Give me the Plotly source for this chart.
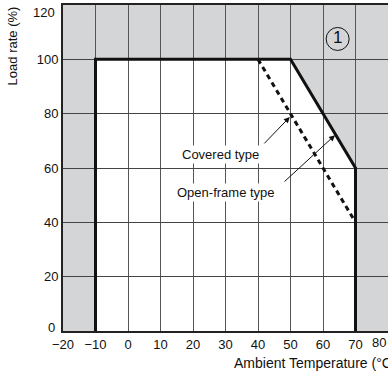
import plotly.graph_objects as go

# derating curves (ambient temperature in degC, load rate in %)
open_temp = [-10, -10, 50, 70, 70]
open_load = [0, 100, 100, 60, 0]
covered_temp = [40, 70]
covered_load = [100, 40]

x_ticks = [-20, -10, 0, 10, 20, 30, 40, 50, 60, 70, 80]
y_ticks = [0, 20, 40, 60, 80, 100, 120]

# annotation labels and arrow end points (data coords)
labels = ['Covered type', 'Open-frame type']
label_x = [28.6, 30.3]
label_y = [65.1, 50.8]
arrow_tail_x = [41.5, 47.7]
arrow_tail_y = [68.5, 54.5]
arrow_head_x = [49.8, 63.7]
arrow_head_y = [78.8, 72.1]

badge_x = [64.5]
badge_y = [107.5]
badge_text = ['1']

FONT = 'Liberation Sans, Arial, sans-serif'
grey_bg = '#d4d5d7'
ink = '#111111'

fig = go.Figure()

fig.add_trace(go.Scatter(
    x=open_temp, y=open_load, mode='lines',
    line=dict(color=ink, width=3), hoverinfo='skip',
))
fig.add_trace(go.Scatter(
    x=covered_temp, y=covered_load, mode='lines',
    line=dict(color=ink, width=3, dash='5px,4px'), hoverinfo='skip',
))
fig.add_trace(go.Scatter(
    x=badge_x, y=badge_y, mode='markers+text', text=badge_text,
    textposition='middle center',
    textfont=dict(size=17, color=ink, family=FONT),
    marker=dict(size=23, color='rgba(0,0,0,0)', line=dict(color=ink, width=1)),
    hoverinfo='skip',
))

# white usable area, drawn under the grid
path = 'M ' + ' L '.join('{} {}'.format(x, y) for x, y in zip(open_temp, open_load)) + ' Z'
shapes = [dict(type='path', path=path, xref='x', yref='y',
               fillcolor='white', line=dict(width=0), layer='below')]

annotations = []
for i in range(len(labels)):
    annotations.append(dict(
        x=arrow_head_x[i], y=arrow_head_y[i], ax=arrow_tail_x[i], ay=arrow_tail_y[i],
        xref='x', yref='y', axref='x', ayref='y', text='',
        showarrow=True, arrowhead=2, arrowsize=1.2, arrowwidth=1, arrowcolor=ink,
    ))
    annotations.append(dict(
        x=label_x[i], y=label_y[i], xref='x', yref='y', text=labels[i],
        showarrow=False, bgcolor='white', borderpad=1,
        font=dict(size=13, color=ink, family=FONT),
    ))

# edge tick labels, nudged inside the page like in the original
annotations.append(dict(
    x=-0.018, y=y_ticks[0], xref='paper', yref='y', xanchor='right', yanchor='middle',
    yshift=4, text=str(y_ticks[0]), showarrow=False, font=dict(size=13, color=ink, family=FONT),
))
annotations.append(dict(
    x=-0.018, y=y_ticks[-1], xref='paper', yref='y', xanchor='right', yanchor='middle',
    yshift=-7, text=str(y_ticks[-1]), showarrow=False, font=dict(size=13, color=ink, family=FONT),
))
annotations.append(dict(
    x=x_ticks[-1], y=-0.036, xref='x', yref='paper', xanchor='right', yanchor='middle',
    text=str(x_ticks[-1]), showarrow=False, font=dict(size=13, color=ink, family=FONT),
))

annotations.append(dict(
    x=0.52, y=-0.098, xref='paper', yref='paper', xanchor='left', yanchor='middle',
    text='Ambient Temperature (°C)', showarrow=False,
    font=dict(size=14, color=ink, family=FONT),
))
annotations.append(dict(
    x=-0.157, y=0.876, xref='paper', yref='paper', xanchor='center', yanchor='middle',
    text='Load rate (%)', textangle=-90, showarrow=False,
    font=dict(size=13, color=ink, family=FONT),
))

fig.update_layout(
    width=388, height=376,
    margin=dict(l=63, r=0, t=5, b=45),
    paper_bgcolor='white', plot_bgcolor=grey_bg,
    showlegend=False,
    font=dict(family=FONT, size=13, color=ink),
    shapes=shapes, annotations=annotations,
    xaxis=dict(range=[-20, 80], tickvals=x_ticks[:-1], ticks='',
               showgrid=True, gridcolor='#555555', gridwidth=1,
               showline=True, linecolor='#222222', linewidth=2, mirror=True,
               zeroline=False, fixedrange=True, automargin=False,
               ticklabeloverflow='allow'),
    yaxis=dict(range=[0, 120], tickvals=y_ticks, ticktext=[''] + [str(v) for v in y_ticks[1:-1]] + [''],
               ticks='',
               showgrid=True, gridcolor='#444444', gridwidth=1,
               showline=True, linecolor='#222222', linewidth=2,
               zeroline=False, fixedrange=True, automargin=False),
)

fig.write_html('out.html', config={'displayModeBar': False},
               post_script="document.body.style.margin='0px';document.body.style.overflow='hidden';")
